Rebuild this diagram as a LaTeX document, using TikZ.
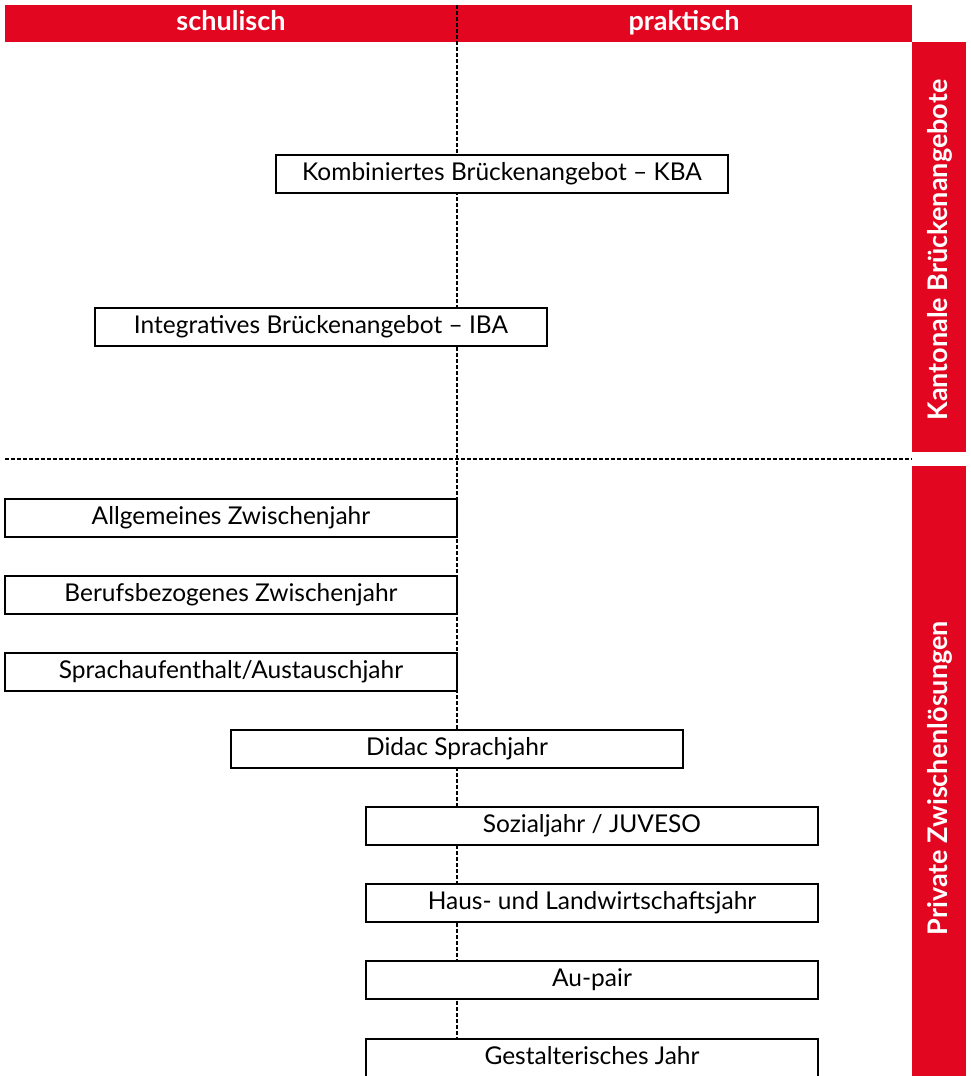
\documentclass[tikz,border=0pt]{standalone}
\usepackage{fontspec}
\setmainfont{Lato}
\definecolor{kantonrot}{RGB}{227,6,33}
\tikzset{
  angebot/.style={draw, line width=1.5pt, fill=white, minimum width=452pt, minimum height=38pt, inner sep=0pt, text height=17.5pt, text depth=5pt, font=\fontsize{24.5}{26}\selectfont},
  kopf/.style={text=white, inner sep=0pt, text height=19.5pt, text depth=5.5pt, font=\bfseries\fontsize{27}{29}\selectfont},
  trenner/.style={line width=1.2pt, dash pattern=on 4pt off 2pt}
}
\begin{document}
\begin{tikzpicture}[x=1pt,y=-1pt]
\useasboundingbox (0,0) rectangle (970,1076);
% Kopfzeile und Seitenbalken
\fill[kantonrot] (5,5) rectangle (912,42);
\fill[kantonrot] (912,42) rectangle (966,452);
\fill[kantonrot] (912,466) rectangle (966,1080);
\node[kopf] (schulisch) at (231,23) {schulisch};
\node[kopf] (praktisch) at (684,23) {praktisch};
\node[kopf, rotate=90] (kantonal) at (940,250) {Kantonale Brückenangebote};
\node[kopf, rotate=90] (privat) at (940,778) {Private Zwischenlösungen};
% Trennlinien
\draw[trenner] (457,5) -- (457,1040);
\draw[trenner] (5,459) -- (912,459);
% kantonale Angebote
\node[angebot] (kba) at (502,174) {Kombiniertes Brückenangebot – KBA};
\node[angebot] (iba) at (321,327) {Integratives Brückenangebot – IBA};
% private Angebote
\node[angebot] (allg) at (231,518) {Allgemeines Zwischenjahr};
\node[angebot] (beruf) at (231,595) {Berufsbezogenes Zwischenjahr};
\node[angebot] (sprach) at (231,672) {Sprachaufenthalt/Austauschjahr};
\node[angebot] (didac) at (457,749) {Didac Sprachjahr};
\node[angebot] (sozial) at (592,826) {Sozialjahr / JUVESO};
\node[angebot] (haus) at (592,903) {Haus- und Landwirtschaftsjahr};
\node[angebot] (aupair) at (592,980) {Au-pair};
\node[angebot] (gestalt) at (592,1058) {Gestalterisches Jahr};
\end{tikzpicture}
\end{document}
